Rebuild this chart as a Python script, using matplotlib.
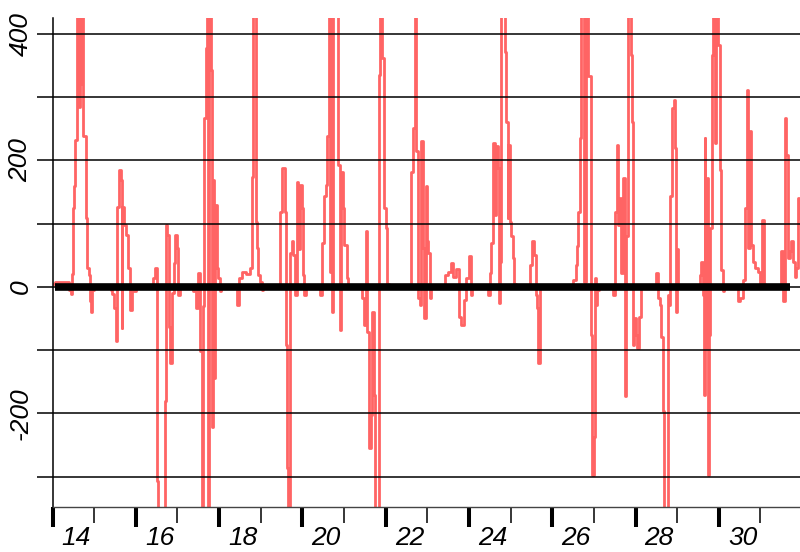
import numpy as np
import matplotlib.pyplot as plt
from matplotlib.ticker import NullFormatter

# red series: (day, value) pairs, drawn as steps
# values past the axis limits are just clipped by the axes
days = [
    14.00, 14.05, 14.40, 14.45, 14.47, 14.49, 14.52, 14.55, 14.58, 14.64, 14.66, 14.68,
    14.74, 14.80, 14.84, 14.87, 14.90, 14.93, 14.96, 15.00, 15.40, 15.43, 15.47, 15.52,
    15.56, 15.60, 15.64, 15.66, 15.68, 15.72, 15.76, 15.82, 15.86, 15.92, 16.00, 16.42,
    16.46, 16.50, 16.52, 16.54, 16.70, 16.73, 16.76, 16.79, 16.83, 16.87, 16.92,
    16.95, 16.98, 17.02, 17.05, 17.38, 17.44, 17.50, 17.55, 17.58, 17.62, 17.65, 17.68,
    17.71, 17.73, 17.76, 17.80, 17.82, 17.85, 17.88, 17.91, 17.94, 17.98, 18.02, 18.05,
    18.42, 18.48, 18.55, 18.65, 18.74, 18.78, 18.81, 18.89, 18.91, 18.94, 18.98, 19.02,
    19.05, 19.46, 19.50, 19.58, 19.60, 19.63, 19.66, 19.71, 19.74, 19.78, 19.82, 19.86,
    19.90,
    19.95, 19.99, 20.02, 20.04, 20.08, 20.42, 20.48, 20.52, 20.56, 20.60, 20.64, 20.66,
    20.68, 20.72, 20.74, 20.86, 20.90, 20.93, 20.97, 21.00, 21.06, 21.10, 21.44, 21.48,
    21.52, 21.55, 21.60, 21.64, 21.68, 21.72, 21.75, 21.84, 21.86, 21.92, 21.96, 22.00,
    22.04, 22.08, 22.62, 22.66, 22.70, 22.74, 22.78, 22.82, 22.86, 22.90, 22.93,
    22.96, 22.99, 23.02, 23.06, 23.10, 23.42, 23.50, 23.56, 23.62, 23.70, 23.76, 23.82,
    23.88, 23.94, 23.99, 24.04, 24.08, 24.46, 24.50, 24.54, 24.58, 24.62, 24.66, 24.69,
    24.72, 24.75, 24.78, 24.87, 24.90, 24.93, 24.95, 24.98, 25.01, 25.05, 25.08, 25.12,
    25.46, 25.52, 25.57, 25.60, 25.63, 25.66, 25.70,
    26.50, 26.56, 26.60, 26.63, 26.67, 26.70, 26.77, 26.82, 26.87, 26.92, 26.96, 27.00,
    27.02, 27.05, 27.08, 27.12, 27.46, 27.50, 27.55, 27.58, 27.62, 27.66, 27.70, 27.74,
    27.78, 27.81, 27.88, 27.91, 27.94, 27.97, 28.00, 28.04, 28.08, 28.12, 28.50, 28.54,
    28.58, 28.62, 28.66, 28.69, 28.77, 28.80, 28.84, 28.88, 28.93,
    28.96, 28.98, 29.00, 29.03, 29.54, 29.58, 29.61, 29.64, 29.66, 29.68, 29.71, 29.74,
    29.77, 29.80, 29.84, 29.87, 29.91, 29.94, 29.98, 30.02, 30.06, 30.09, 30.12, 30.47,
    30.52, 30.58, 30.62, 30.67, 30.71, 30.74, 30.77, 30.82, 30.88, 30.95, 31.00, 31.04,
    31.08, 31.12, 31.50, 31.54, 31.58, 31.62, 31.65, 31.70, 31.74, 31.78, 31.82, 31.86,
    31.89, 31.93, 31.96,
]
values = [
    5, 8, -5, -12, 20, 124, 159, 232, 500, 285, 320, 500,
    238, 109, 30, 19, -23, -39, -5, 0, -5, -12, -34, -86,
    127, 185, 169, -65, 127, 98, 82, 30, -36, -7, 0, 14,
    30, -34, -307, -400, -181, 98, 82, -63, -121, -10, 37,
    82, 61, -13, 0, -7, -34, 22, -102, -400, -31, 267, 377,
    500, -400, 500, 343, -221, 169, -144, 130, 30, 14, -7, 0,
    -28, 14, 24, 20, 30, 174, 500, 103, 61, 19, 8, -5,
    0, 119, 188, 119, -92, -287, -400, 53, 72, 50, -13, 166,
    60,
    161, 124, 19, -13, 0, -13, 69, 143, 161, 238, 500, 24,
    500, -39, 500, 193, -68, 182, 124, 66, 14, 0, -18, -60,
    88, -71, -255, -202, -39, -171, -400, 335, 500, 361, 124, 93,
    5, 0, 182, 251, 500, 214, -18, -28, 230, 61, -50,
    159, 72, 53, -18, 0, 19, 24, 37, 15, 28, -47, -60,
    -20, 14, 48, -13, 0, -13, 22, 69, 227, 114, 222, 188,
    -26, 40, 500, 372, 261, 109, 225, 103, 80, 45, 5, 0,
    35, 72, 51, -13, -34, -121, 0,
    11, 35, 64, 119, 235, 500, 8, 500, 333, -76, -297, -237,
    14, -28, -5, 0, -13, 119, 225, 98, 140, 22, 172, -173,
    80, 500, 367, 261, -92, -50, -76, -97, -47, 0, 22, -18,
    -28, -79, -197, -400, -13, -28, 143, 282, 296,
    219, -39, 60, 0, 19, 40, -13, -171, 235, -97, 172, -297,
    -76, 93, 367, 500, 227, 500, 383, 185, 27, -7, 0, -23,
    -18, 11, 124, 311, 61, 246, 66, 40, 30, 24, 5, 106,
    5, 0, 56, -23, 267, 209, 45, 56, 72, 40, 16, 30,
    140, 109, 109,
]

zero_span = [14.07, 31.71]
grid_levels = np.arange(-300, 401, 100)
ytick_text = {400: "400", 200: "200", 0: "0", -200: "-200"}
major_days = np.arange(14, 31, 2)
minor_days = np.arange(15, 32, 2)
day_labels = [str(d) for d in major_days]

plt.rcParams["font.family"] = ["Liberation Sans", "DejaVu Sans"]

fig = plt.figure(figsize=(8, 5.52), dpi=100)
ax = fig.add_axes([52.5 / 800, 1 - 507 / 552, 1 - 52.5 / 800, (507 - 18) / 552])

ax.step(days, values, where="post", color="#ff6464", lw=2.0, zorder=2)

for lvl in grid_levels:
    ax.axhline(lvl, color="black", lw=1.1, zorder=3)
ax.plot(zero_span, [0, 0], color="black", lw=5.5, solid_capstyle="butt", zorder=4)

ax.set_xlim(14.0, 31.95)
ax.set_ylim(-348, 425)

for s in ["top", "right"]:
    ax.spines[s].set_visible(False)
ax.spines["left"].set_linewidth(1.1)
ax.spines["bottom"].set_linewidth(1.0)
ax.spines["bottom"].set_color("#444444")

ax.set_yticks(grid_levels)
ax.set_yticklabels([ytick_text.get(int(v), "") for v in grid_levels],
                   rotation=90, va="center", fontsize=19, fontstyle="italic")
ax.tick_params(axis="y", length=11.5, width=1.1, pad=3)

ax.set_xticks(major_days)
ax.set_xticks(minor_days, minor=True)
ax.xaxis.set_major_formatter(NullFormatter())
ax.tick_params(axis="x", which="major", length=14.4, width=2.9)
ax.tick_params(axis="x", which="minor", length=11.5, width=1.1)

for d, lab in zip(major_days, day_labels):
    ax.text(d + 0.57, -0.064, lab, transform=ax.get_xaxis_transform(),
            ha="center", va="center", fontsize=19, fontstyle="italic")

fig.savefig("out.png", dpi=100)
